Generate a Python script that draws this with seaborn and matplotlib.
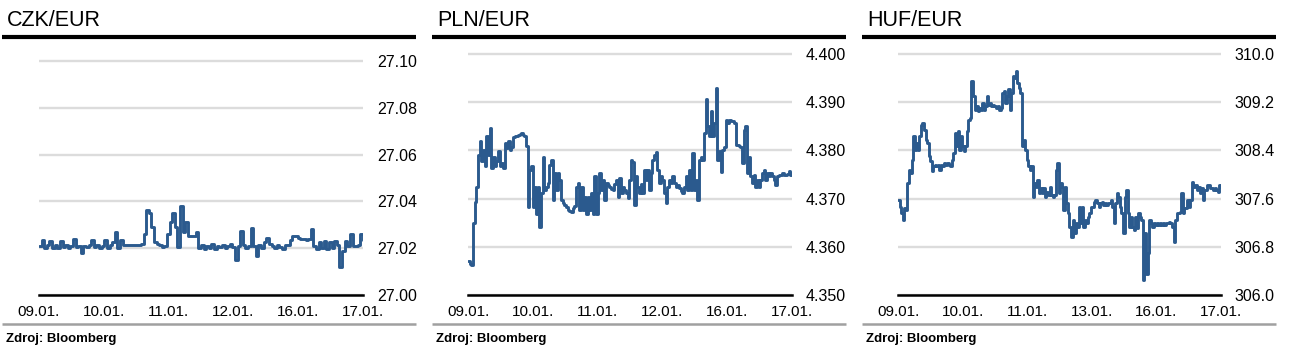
import numpy as np
import pandas as pd
import matplotlib
matplotlib.use("Agg")
import matplotlib.pyplot as plt
import seaborn as sns
from matplotlib.lines import Line2D

# ---- data (intraday quotes 09.01. - 17.01.) ----
labels_czk = ["09.01.", "10.01.", "11.01.", "12.01.", "16.01.", "17.01."]
labels_pln = ["09.01.", "10.01.", "11.01.", "12.01.", "16.01.", "17.01."]
labels_huf = ["09.01.", "10.01.", "11.01.", "13.01.", "16.01.", "17.01."]

czk_eur = [
    27.0210, 27.0235, 27.0200, 27.0215, 27.0230, 27.0200, 27.0215, 27.0200, 27.0230, 27.0205,
    27.0215, 27.0200, 27.0210, 27.0240, 27.0205, 27.0210, 27.0180, 27.0210, 27.0205, 27.0215,
    27.0235, 27.0205, 27.0215, 27.0200, 27.0210, 27.0235, 27.0200, 27.0215, 27.0225, 27.0270,
    27.0200, 27.0235, 27.0215, 27.0215, 27.0215, 27.0215, 27.0215, 27.0215, 27.0215, 27.0220,
    27.0260, 27.0365, 27.0350, 27.0290, 27.0225, 27.0220, 27.0215, 27.0205, 27.0210, 27.0260,
    27.0310, 27.0350, 27.0290, 27.0205, 27.0380, 27.0270, 27.0310, 27.0250, 27.0250, 27.0250,
    27.0270, 27.0200, 27.0215, 27.0195, 27.0210, 27.0200, 27.0220, 27.0195, 27.0210, 27.0205,
    27.0215, 27.0200, 27.0210, 27.0220, 27.0205, 27.0150, 27.0210, 27.0275, 27.0215, 27.0200,
    27.0210, 27.0285, 27.0210, 27.0165, 27.0215, 27.0200, 27.0225, 27.0245, 27.0220, 27.0210,
    27.0200, 27.0215, 27.0205, 27.0195, 27.0215, 27.0215, 27.0235, 27.0250, 27.0250, 27.0245,
    27.0240, 27.0240, 27.0235, 27.0240, 27.0280, 27.0210, 27.0195, 27.0225, 27.0200, 27.0230,
    27.0195, 27.0225, 27.0200, 27.0230, 27.0215, 27.0120, 27.0190, 27.0230, 27.0210, 27.0260,
    27.0210, 27.0210, 27.0215, 27.0260, 27.0235,
]

pln_eur = [
    4.3570, 4.3565, 4.3562, 4.3650, 4.3692, 4.3725, 4.3791, 4.3819, 4.3777, 4.3800,
    4.3767, 4.3829, 4.3791, 4.3847, 4.3763, 4.3787, 4.3767, 4.3777, 4.3798, 4.3767,
    4.3774, 4.3763, 4.3815, 4.3805, 4.3819, 4.3801, 4.3808, 4.3828, 4.3829, 4.3830,
    4.3832, 4.3833, 4.3836, 4.3832, 4.3829, 4.3810, 4.3683, 4.3760, 4.3767, 4.3683,
    4.3725, 4.3669, 4.3725, 4.3642, 4.3711, 4.3787, 4.3718, 4.3725, 4.3732, 4.3770,
    4.3781, 4.3697, 4.3753, 4.3718, 4.3753, 4.3739, 4.3697, 4.3690, 4.3687, 4.3683,
    4.3676, 4.3674, 4.3673, 4.3680, 4.3685, 4.3725, 4.3732, 4.3676, 4.3725, 4.3676,
    4.3704, 4.3669, 4.3704, 4.3676, 4.3711, 4.3669, 4.3746, 4.3669, 4.3711, 4.3753,
    4.3718, 4.3739, 4.3697, 4.3732, 4.3728, 4.3725, 4.3720, 4.3718, 4.3730, 4.3739,
    4.3704, 4.3742, 4.3711, 4.3725, 4.3718, 4.3711, 4.3701, 4.3739, 4.3781,
    4.3775, 4.3687, 4.3746, 4.3725, 4.3711, 4.3730, 4.3711, 4.3760, 4.3739, 4.3760,
    4.3718, 4.3753, 4.3781, 4.3790, 4.3796, 4.3760, 4.3732, 4.3746, 4.3739, 4.3711,
    4.3690, 4.3725, 4.3739, 4.3732, 4.3746, 4.3732, 4.3725, 4.3728, 4.3721, 4.3715,
    4.3711, 4.3725, 4.3746, 4.3718, 4.3760, 4.3718, 4.3794, 4.3718, 4.3739, 4.3697,
    4.3781, 4.3787, 4.3781, 4.3836, 4.3906, 4.3850, 4.3829, 4.3881, 4.3829, 4.3857,
    4.3930, 4.3781, 4.3798, 4.3756, 4.3801, 4.3808, 4.3864, 4.3857, 4.3864, 4.3862,
    4.3860, 4.3857, 4.3812, 4.3812, 4.3810, 4.3808, 4.3774, 4.3843, 4.3850, 4.3753,
    4.3787, 4.3746, 4.3732, 4.3750, 4.3725, 4.3739, 4.3725, 4.3739, 4.3753, 4.3760,
    4.3739, 4.3753, 4.3746, 4.3753, 4.3746, 4.3739, 4.3728, 4.3746, 4.3750, 4.3748,
    4.3753, 4.3750, 4.3750, 4.3752, 4.3757, 4.3750, 4.3753,
]

huf_eur = [
    307.578, 307.467, 307.356, 307.244, 307.439, 307.411, 307.856, 308.078, 308.022, 308.244,
    308.633, 308.411, 308.522, 308.411, 308.633, 308.828, 308.856, 308.744, 308.578, 308.522,
    308.300, 308.217, 308.050, 308.133, 308.161, 308.133, 308.161, 308.078, 308.161, 308.133,
    308.189, 308.161, 308.189, 308.161, 308.133, 308.244, 308.356, 308.689, 308.467, 308.717,
    308.411, 308.633, 308.467, 308.383, 308.467, 308.717, 308.911, 308.939, 309.550, 309.300,
    309.078, 309.133, 309.050, 309.106, 309.078, 309.189, 309.078, 309.133, 309.300, 309.161,
    309.189, 309.133, 309.161, 309.133, 309.106, 309.133, 309.078, 309.106, 309.356, 309.383,
    309.189, 309.300, 309.411, 309.078, 309.356, 309.633, 309.606, 309.717, 309.522, 309.439,
    309.356, 308.467, 308.578, 308.411, 308.244, 308.133, 308.078, 308.133, 307.633, 307.856,
    307.800, 307.911, 307.689, 307.772, 307.689, 307.772, 307.633, 307.717, 307.661, 307.800,
    307.661, 307.633, 307.661, 308.078, 308.189, 307.689, 307.856, 307.800, 307.411, 307.800,
    307.522, 307.356, 307.133, 306.967, 307.244, 307.022, 307.189, 307.133, 307.467, 307.189,
    307.467, 307.133, 307.244, 307.189, 307.300, 307.356, 307.467, 307.467, 307.550, 307.578,
    307.522, 307.467, 307.522, 307.550, 307.494, 307.522, 307.494, 307.522, 307.522, 307.578,
    307.467, 307.189, 307.522, 307.689, 307.633, 307.467, 307.356, 307.022, 307.633, 307.744,
    307.356, 307.133, 307.300, 307.133, 307.078, 307.300, 307.106, 307.356, 307.300, 307.244,
    306.244, 307.022, 306.356, 306.689, 307.244, 307.189, 307.133, 307.189, 307.161, 307.189,
    307.161, 307.189, 307.161, 307.189, 307.161, 307.189, 307.189, 307.217, 307.189, 307.133,
    306.883, 307.244, 307.356, 307.356, 307.383, 307.689, 307.356, 307.439, 307.439, 307.578,
    307.467, 307.578, 307.883, 307.800, 307.828, 307.744, 307.800, 307.689, 307.772, 307.578,
    307.744, 307.744, 307.828, 307.828, 307.772, 307.772, 307.744, 307.772, 307.744, 307.717,
    307.828, 307.800,
]

ticks_czk = [27.00, 27.02, 27.04, 27.06, 27.08, 27.10]
ticks_pln = [4.350, 4.360, 4.370, 4.380, 4.390, 4.400]
ticks_huf = [306.0, 306.8, 307.6, 308.4, 309.2, 310.0]

# ---- styling ----
sns.set_style("white")
plt.rcParams["font.family"] = ["Liberation Sans", "DejaVu Sans"]

W, H = 1291, 356
LINE = "#2b5a8e"
GRID = "#dcdcdc"

fig = plt.figure(figsize=(W / 100, H / 100), dpi=100)


def px_rect(left, top, right, bottom):
    return [left / W, 1 - bottom / H, (right - left) / W, (bottom - top) / H]


panels = [
    # title, values, ticks, fmt, xlabels, panel left, axes left/right, axes top
    ("CZK/EUR", czk_eur, ticks_czk, "{:.2f}", labels_czk, 0, 39, 363, 61),
    ("PLN/EUR", pln_eur, ticks_pln, "{:.3f}", labels_pln, 430, 468, 792, 54),
    ("HUF/EUR", huf_eur, ticks_huf, "{:.1f}", labels_huf, 860, 898, 1221, 54),
]

for title, vals, yt, fmt, xl, x0, al, ar, at in panels:
    bottom = 295
    pad_px = 4
    ax = fig.add_axes(px_rect(al, at - pad_px, ar, bottom))
    df = pd.DataFrame({"t": np.linspace(0, len(xl) - 1, len(vals)), "rate": vals})
    sns.lineplot(data=df, x="t", y="rate", ax=ax, color=LINE, linewidth=2.1,
                 drawstyle="steps-post", zorder=3)
    lo, hi = yt[0], yt[-1]
    ax.set_ylim(lo, hi + (hi - lo) * pad_px / (bottom - at))
    ax.set_xlim(0, len(xl) - 1)
    ax.set_yticks(yt, [fmt.format(v) for v in yt])
    ax.set_xticks(range(len(xl)), xl)
    ax.yaxis.tick_right()
    ax.grid(axis="y", color=GRID, linewidth=1.7, zorder=0)
    ax.grid(axis="x", visible=False)
    for s in ["left", "top", "right"]:
        ax.spines[s].set_visible(False)
    ax.spines["bottom"].set_color("black")
    ax.spines["bottom"].set_linewidth(1.8)
    ax.tick_params(axis="y", length=0, pad=10, labelsize=11.5, colors="black")
    ax.tick_params(axis="x", length=4, width=1.5, direction="inout", pad=5,
                   labelsize=11, colors="black")
    ax.set_xlabel("")
    ax.set_ylabel("")
    ax.patch.set_alpha(0)

    # header / footer decorations
    fig.text((x0 + 7) / W, 1 - 26 / H, title, fontsize=15.5, va="baseline",
             ha="left", color="black")
    fig.add_artist(Line2D([(x0 + 2) / W, (x0 + 416) / W], [1 - 36.5 / H] * 2,
                          color="black", linewidth=3, solid_capstyle="butt"))
    fig.add_artist(Line2D([(x0 + 2) / W, (x0 + 416) / W], [1 - 323.5 / H] * 2,
                          color="#a0a0a0", linewidth=1.8, solid_capstyle="butt"))
    fig.text((x0 + 6) / W, 1 - 342 / H, "Zdroj: Bloomberg", fontsize=9.5,
             fontweight="bold", va="baseline", ha="left", color="black")

fig.savefig("out.png", dpi=100)
